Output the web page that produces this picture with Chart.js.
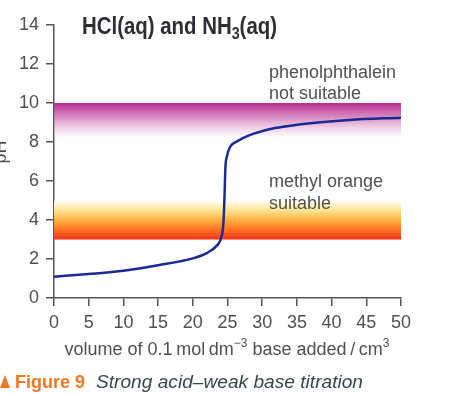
<!DOCTYPE html>
<html>
<head>
<meta charset="utf-8">
<script src="https://cdn.jsdelivr.net/npm/chart.js@4/dist/chart.umd.min.js"></script>
<style>
html,body{margin:0;padding:0;background:#fff;}
#wrap{width:454px;height:394px;position:relative;}
</style>
</head>
<body>
<div id="wrap"><canvas id="c" width="454" height="394"></canvas></div>
<script>
// ---- data ----
const volumes = [0, 5, 10, 15, 20, 22, 23.5, 24, 24.4, 24.55, 24.7, 24.9, 25.4, 26.3, 28.2, 31, 33, 38, 42.5, 50];
const pHValues = [1.09, 1.23, 1.40, 1.68, 2.03, 2.3, 2.7, 3.0, 3.8, 5.0, 6.7, 7.25, 7.76, 8.02, 8.35, 8.65, 8.78, 9.0, 9.13, 9.25];
const xTickValues = [0, 5, 10, 15, 20, 25, 30, 35, 40, 45, 50];
const yTickValues = [0, 2, 4, 6, 8, 10, 12, 14];
const phenolphthaleinBand = [8, 10];   // pH range (fades toward lower value)
const methylOrangeBand = [3, 5];       // pH range (fades toward upper value)

const tickFont = {family: "'Liberation Sans', Arial, sans-serif", size: 18};
const textColor = '#505050';

const bandsPlugin = {
  id: 'bands',
  beforeDatasetsDraw(chart) {
    const {ctx, scales: {x, y}} = chart;
    const x0 = x.getPixelForValue(0), x1 = x.getPixelForValue(50);
    let yt = y.getPixelForValue(phenolphthaleinBand[1]);
    let yb = y.getPixelForValue(phenolphthaleinBand[0]);
    let g = ctx.createLinearGradient(0, yt, 0, yb);
    g.addColorStop(0, 'rgba(186,44,147,1)');
    g.addColorStop(0.35, 'rgba(200,95,170,0.75)');
    g.addColorStop(0.7, 'rgba(225,170,210,0.4)');
    g.addColorStop(1, 'rgba(255,255,255,0)');
    ctx.save();
    ctx.fillStyle = g;
    ctx.fillRect(x0, yt, x1 - x0, yb - yt);
    yb = y.getPixelForValue(methylOrangeBand[0]);
    yt = y.getPixelForValue(methylOrangeBand[1] + 0.1);
    g = ctx.createLinearGradient(0, yb, 0, yt);
    g.addColorStop(0, 'rgba(255,50,25,1)');
    g.addColorStop(0.2, 'rgba(255,105,30,1)');
    g.addColorStop(0.45, 'rgba(255,170,60,1)');
    g.addColorStop(0.7, 'rgba(255,225,140,1)');
    g.addColorStop(0.88, 'rgba(255,248,215,1)');
    g.addColorStop(1, 'rgba(255,255,255,0)');
    ctx.fillStyle = g;
    ctx.fillRect(x0, yt, x1 - x0, yb - yt);
    ctx.restore();
  }
};

function drawSegments(ctx, x, yBase, parts) {
  let cx = x;
  for (const [t, f, dy] of parts) {
    ctx.font = f;
    ctx.fillText(t, cx, yBase + dy);
    cx += ctx.measureText(t).width;
  }
  return cx;
}
function measureSegments(ctx, parts) {
  let w = 0;
  for (const [t, f] of parts) { ctx.font = f; w += ctx.measureText(t).width; }
  return w;
}

const textPlugin = {
  id: 'texts',
  afterDraw(chart) {
    const {ctx} = chart;
    ctx.save();
    ctx.textBaseline = 'alphabetic';
    ctx.textAlign = 'left';
    // title (condensed look)
    ctx.save();
    ctx.fillStyle = '#2b2e33';
    const tb = "bold 23px 'Liberation Sans', Arial, sans-serif";
    const ts = "bold 16px 'Liberation Sans', Arial, sans-serif";
    const tparts = [['HCl(aq) and NH', tb, 0], ['3', ts, 5], ['(aq)', tb, 0]];
    const tw = measureSegments(ctx, tparts);
    const sx = 195 / tw;
    ctx.translate(82, 0);
    ctx.scale(sx, 1);
    drawSegments(ctx, 0, 34, tparts);
    ctx.restore();
    // annotations
    ctx.fillStyle = textColor;
    ctx.font = "18px 'Liberation Sans', Arial, sans-serif";
    ctx.fillText('phenolphthalein', 269, 78);
    ctx.fillText('not suitable', 269, 99);
    ctx.fillText('methyl orange', 269, 187);
    ctx.fillText('suitable', 269, 209);
    // x axis title
    const nf = "18px 'Liberation Sans', Arial, sans-serif";
    const sf = "12px 'Liberation Sans', Arial, sans-serif";
    const parts = [['volume of 0.1\u2009mol\u2009dm', nf, 0], ['\u22123', sf, -8], [' base added\u2009/\u2009cm', nf, 0], ['3', sf, -8]];
    const w = measureSegments(ctx, parts);
    drawSegments(ctx, 227 - w / 2, 355, parts);
    // y axis title (clipped at left)
    ctx.save();
    ctx.translate(6, 152);
    ctx.rotate(-Math.PI / 2);
    ctx.textAlign = 'center';
    ctx.font = "18px 'Liberation Sans', Arial, sans-serif";
    ctx.fillText('pH', 0, 0);
    ctx.restore();
    // caption
    ctx.fillStyle = '#f07822';
    ctx.beginPath();
    ctx.moveTo(0, 388); ctx.lineTo(10, 388); ctx.lineTo(5, 375); ctx.closePath();
    ctx.fill();
    ctx.font = "bold 18px 'Liberation Sans', Arial, sans-serif";
    ctx.fillText('Figure 9', 15, 388);
    ctx.fillStyle = '#34474f';
    ctx.font = "italic 19px 'Liberation Sans', Arial, sans-serif";
    const cap = 'Strong acid\u2013weak base titration';
    const cw = ctx.measureText(cap).width;
    ctx.save();
    ctx.translate(96, 0);
    ctx.scale(267 / cw, 1);
    ctx.fillText(cap, 0, 388);
    ctx.restore();
    ctx.restore();
  }
};

new Chart(document.getElementById('c'), {
  type: 'line',
  data: {
    datasets: [{
      data: volumes.map((v, i) => ({x: v, y: pHValues[i]})),
      borderColor: '#1b2a94',
      borderWidth: 2.5,
      pointRadius: 0,
      fill: false,
      cubicInterpolationMode: 'monotone'
    }]
  },
  options: {
    responsive: false,
    animation: false,
    events: [],
    layout: {padding: {top: 25, right: 53, bottom: 0, left: 0}},
    plugins: {legend: {display: false}, tooltip: {enabled: false}},
    scales: {
      x: {
        type: 'linear', min: 0, max: 50,
        afterBuildTicks: s => { s.ticks = xTickValues.map(v => ({value: v})); },
        afterFit: s => { s.height = 96; },
        grid: {drawOnChartArea: false, drawTicks: true, tickLength: 8, color: '#555', lineWidth: 1.5},
        border: {color: '#555', width: 1.5},
        ticks: {font: tickFont, color: textColor, padding: 6, maxRotation: 0}
      },
      y: {
        type: 'linear', min: 0, max: 14,
        afterBuildTicks: s => { s.ticks = yTickValues.map(v => ({value: v})); },
        afterFit: s => { s.width = 54; },
        grid: {drawOnChartArea: false, drawTicks: true, tickLength: 8, color: '#555', lineWidth: 1.5},
        border: {color: '#555', width: 1.5},
        ticks: {font: tickFont, color: textColor, padding: 7}
      }
    }
  },
  plugins: [bandsPlugin, textPlugin]
});
</script>
</body>
</html>
